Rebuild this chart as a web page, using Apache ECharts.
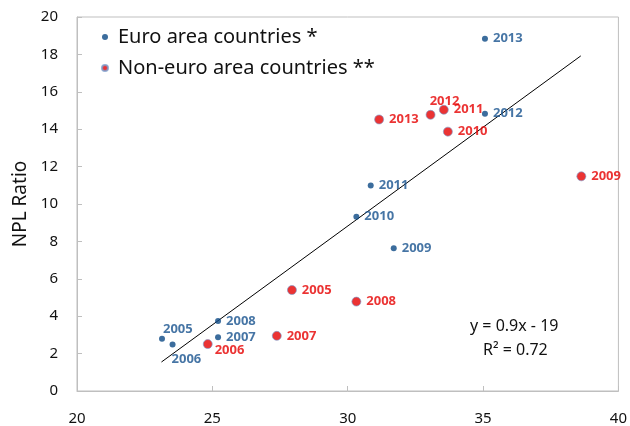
<!DOCTYPE html>
<html>
<head>
<meta charset="utf-8">
<title>NPL Ratio</title>
<script src="https://cdn.jsdelivr.net/npm/echarts@6/dist/echarts.min.js"></script>
<style>
  html, body { margin: 0; padding: 0; background: #fff; }
  #chart { width: 630px; height: 426px; }
</style>
</head>
<body>
<div id="chart"></div>
<script>
// euro area countries
var euroYears = ['2005', '2006', '2007', '2008', '2009', '2010', '2011', '2012', '2013'];
var euroX = [23.14, 23.53, 25.21, 25.21, 31.70, 30.32, 30.85, 35.07, 35.07];
var euroY = [2.79, 2.49, 2.88, 3.75, 7.64, 9.32, 10.99, 14.83, 18.84];

// non-euro area countries
var nonEuroYears = ['2005', '2006', '2007', '2008', '2009', '2010', '2011', '2012', '2013'];
var nonEuroX = [27.94, 24.83, 27.38, 30.32, 38.63, 33.70, 33.55, 33.06, 31.16];
var nonEuroY = [5.40, 2.51, 2.95, 4.78, 11.48, 13.87, 15.04, 14.77, 14.52];

// fitted line end points
var trendX = [23.12, 38.61];
var trendY = [1.55, 17.92];

var xTicks = [20, 40, 5];
var yTicks = [0, 20, 2];

// a few labels sit elsewhere than the right side
var euroLabelTweak = {
    '2005': { offset: [-7, -10] },
    '2006': { offset: [-9, 15] }
};
var nonEuroLabelTweak = {
    '2006': { offset: [-3, 6] },
    '2012': { position: 'top', offset: [14, 3] }
};

function buildPoints(xs, ys, years, tweak) {
    var out = [];
    for (var i = 0; i < xs.length; i++) {
        var p = { value: [xs[i], ys[i], years[i]] };
        if (tweak[years[i]]) p.label = tweak[years[i]];
        out.push(p);
    }
    return out;
}

var trendData = [];
for (var i = 0; i < trendX.length; i++) trendData.push([trendX[i], trendY[i]]);

var FONT = '"Noto Sans", "DejaVu Sans", sans-serif';
var BLUE = '#0b4884';
var RED = '#e60000';
var axisGray = '#bfbfbf';

var myChart = echarts.init(document.getElementById('chart'));
var option = {
    animation: false,
    textStyle: { fontFamily: FONT },
    grid: {
        left: 77, right: 11, top: 17, bottom: 34,
        show: true, borderColor: axisGray, borderWidth: 1
    },
    legend: {
        orient: 'vertical',
        left: 96, top: 22,
        itemGap: 11,
        itemWidth: 6, itemHeight: 6,
        icon: 'circle',
        textStyle: { fontSize: 20, color: '#111', fontFamily: FONT, padding: [0, 0, 0, 5] },
        data: ['Euro area countries *', 'Non-euro area countries **']
    },
    xAxis: {
        type: 'value',
        min: xTicks[0], max: xTicks[1], interval: xTicks[2],
        axisLine: { lineStyle: { color: axisGray } },
        axisTick: { inside: true, length: 5, lineStyle: { color: axisGray } },
        splitLine: { show: false },
        axisLabel: { fontSize: 15, color: '#111', margin: 20 }
    },
    yAxis: {
        type: 'value',
        min: yTicks[0], max: yTicks[1], interval: yTicks[2],
        name: 'NPL Ratio',
        nameLocation: 'middle',
        nameGap: 47,
        nameTextStyle: { fontSize: 19, color: '#111' },
        axisLine: { show: true, lineStyle: { color: axisGray } },
        axisTick: { show: true, inside: true, length: 5, lineStyle: { color: axisGray } },
        splitLine: { show: false },
        axisLabel: { fontSize: 15, color: '#111', margin: 19 }
    },
    graphic: [
        {
            type: 'text', left: 470, top: 318,
            style: { text: 'y = 0.9x - 19', font: '16px ' + FONT, fill: '#111' }
        },
        {
            type: 'text', left: 483, top: 342,
            style: { text: 'R\u00b2 = 0.72', font: '16px ' + FONT, fill: '#111' }
        }
    ],
    series: [
        {
            name: 'trend',
            type: 'line',
            data: trendData,
            symbol: 'none',
            silent: true,
            z: 1,
            lineStyle: { color: '#000', width: 1 }
        },
        {
            name: 'Euro area countries *',
            type: 'scatter',
            symbolSize: 6,
            z: 3,
            itemStyle: { color: BLUE },
            label: {
                show: true, position: 'right', distance: 5,
                formatter: function (p) { return p.value[2]; },
                color: '#18538f', fontSize: 13, fontWeight: 'bold'
            },
            data: buildPoints(euroX, euroY, euroYears, euroLabelTweak)
        },
        {
            name: 'Non-euro area countries **',
            type: 'scatter',
            symbolSize: 9,
            z: 2,
            itemStyle: { color: RED, borderColor: '#7a9ccc', borderWidth: 0.8 },
            label: {
                show: true, position: 'right', distance: 5,
                formatter: function (p) { return p.value[2]; },
                color: '#e60000', fontSize: 13, fontWeight: 'bold'
            },
            data: buildPoints(nonEuroX, nonEuroY, nonEuroYears, nonEuroLabelTweak)
        }
    ]
};
myChart.setOption(option);
</script>
</body>
</html>
